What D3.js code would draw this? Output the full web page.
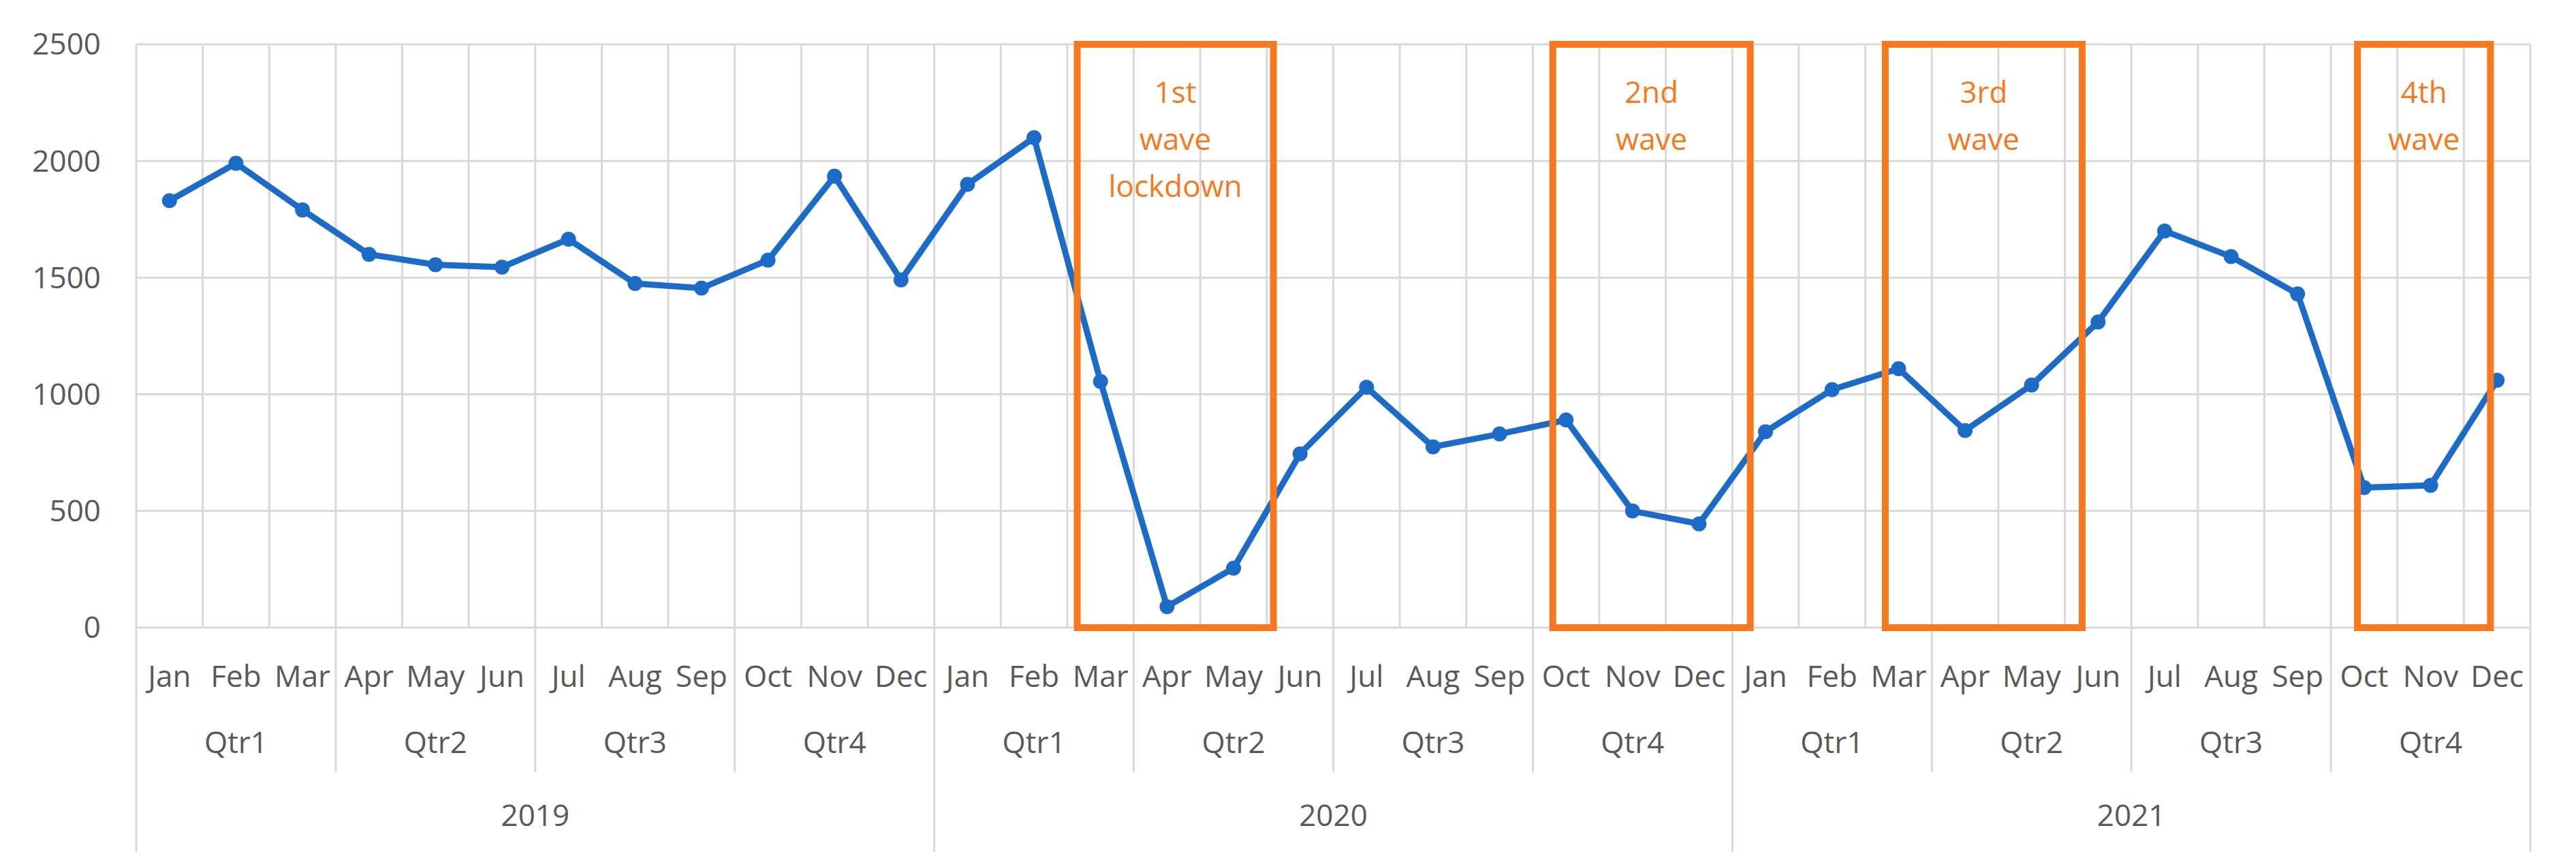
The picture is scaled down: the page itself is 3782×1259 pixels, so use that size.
<!DOCTYPE html>
<html><head><meta charset="utf-8">
<script src="https://cdn.jsdelivr.net/npm/d3@7"></script>
<style>body{margin:0;background:#fff}svg{display:block}</style>
</head><body><svg id="c" width="3782" height="1259"></svg>
<script>
const months = ["Jan","Feb","Mar","Apr","May","Jun","Jul","Aug","Sep","Oct","Nov","Dec"];
const quarters = ["Qtr1","Qtr2","Qtr3","Qtr4"];
const years = ["2019","2020","2021"];
const values = [1830,1990,1790,1600,1555,1545,1665,1475,1455,1575,1935,1490,
                1900,2100,1055,90,255,745,1030,775,830,890,500,445,
                840,1020,1110,845,1040,1310,1700,1590,1430,600,610,1060];
const yTicks = [0,500,1000,1500,2000,2500];
const waves = [
  {x0:14.15,x1:17.1,lines:["1st","wave","lockdown"]},
  {x0:21.3,x1:24.27,lines:["2nd","wave"]},
  {x0:26.3,x1:29.26,lines:["3rd","wave"]},
  {x0:33.4,x1:35.4,lines:["4th","wave"]}
];

const svg = d3.select("#c");
const L=200,R=3715,T=65,B=921;
const x = d3.scaleLinear().domain([0,36]).range([L,R]);
const y = d3.scaleLinear().domain([0,2500]).range([B,T]);
const font = "'Open Sans', 'Noto Sans', sans-serif";
const grid="#d9d9d9", txt="#595959", blue="#1c6bc6", orange="#f6781f";
const fs = 44;

svg.append("g").selectAll("line").data(yTicks).join("line")
  .attr("x1",L).attr("x2",R).attr("y1",d=>y(d)).attr("y2",d=>y(d))
  .attr("stroke",grid).attr("stroke-width",3);
svg.append("g").selectAll("line").data(d3.range(37)).join("line")
  .attr("x1",d=>x(d)).attr("x2",d=>x(d)).attr("y1",T).attr("y2",B)
  .attr("stroke",grid).attr("stroke-width",3);
svg.append("g").selectAll("line").data(d3.range(13)).join("line")
  .attr("x1",d=>x(d*3)).attr("x2",d=>x(d*3)).attr("y1",B)
  .attr("y2",d=>d%4===0?1250:1133)
  .attr("stroke",grid).attr("stroke-width",3);

svg.append("g").selectAll("text").data(yTicks).join("text")
  .attr("x",148).attr("y",d=>y(d)).attr("dy","0.35em").attr("text-anchor","end")
  .attr("font-family",font).attr("font-size",fs).attr("fill",txt).text(d=>d);

svg.append("g").selectAll("text").data(d3.range(36)).join("text")
  .attr("x",d=>x(d+0.5)).attr("y",993).attr("dy","0.35em").attr("text-anchor","middle")
  .attr("font-family",font).attr("font-size",fs).attr("fill",txt).text(d=>months[d%12]);
svg.append("g").selectAll("text").data(d3.range(12)).join("text")
  .attr("x",d=>x(d*3+1.5)).attr("y",1090).attr("dy","0.35em").attr("text-anchor","middle")
  .attr("font-family",font).attr("font-size",fs).attr("fill",txt).text(d=>quarters[d%4]);
svg.append("g").selectAll("text").data(years).join("text")
  .attr("x",(d,i)=>x(i*12+6)).attr("y",1197).attr("dy","0.35em").attr("text-anchor","middle")
  .attr("font-family",font).attr("font-size",fs).attr("fill",txt).text(d=>d);

const line = d3.line().x((d,i)=>x(i+0.5)).y(d=>y(d));
svg.append("path").datum(values).attr("d",line).attr("fill","none")
  .attr("stroke",blue).attr("stroke-width",9).attr("stroke-linejoin","round");
svg.append("g").selectAll("circle").data(values).join("circle")
  .attr("cx",(d,i)=>x(i+0.5)).attr("cy",d=>y(d)).attr("r",11).attr("fill",blue);

const wg = svg.append("g");
wg.selectAll("rect").data(waves).join("rect")
  .attr("x",d=>x(d.x0)).attr("width",d=>x(d.x1)-x(d.x0))
  .attr("y",y(2500)).attr("height",y(0)-y(2500))
  .attr("fill","none").attr("stroke",orange).attr("stroke-width",10);
waves.forEach(w=>{
  wg.append("g").selectAll("text").data(w.lines).join("text")
    .attr("x",x((w.x0+w.x1)/2)).attr("y",(d,i)=>136+i*69).attr("dy","0.35em")
    .attr("text-anchor","middle").attr("font-family",font).attr("font-size",fs)
    .attr("fill",orange).text(d=>d);
});
</script></body></html>
